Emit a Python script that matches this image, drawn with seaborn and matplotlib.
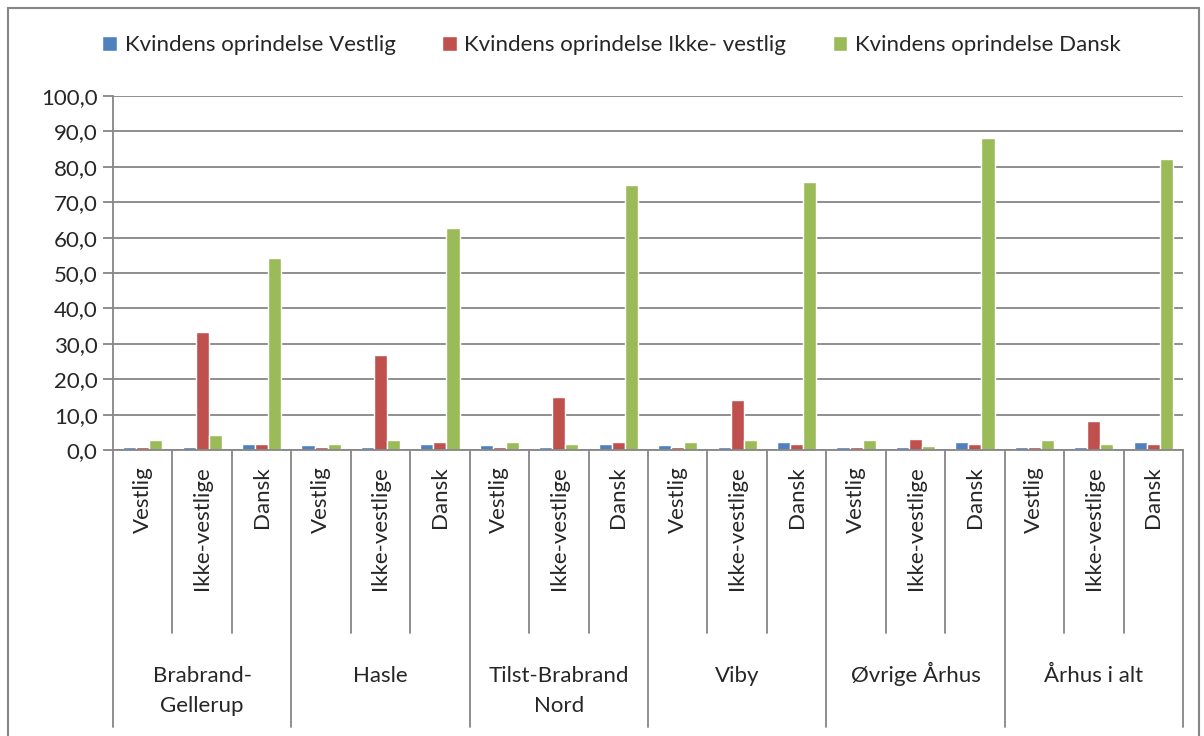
import numpy as np
import pandas as pd
import matplotlib
matplotlib.use("Agg")
import matplotlib.pyplot as plt
from matplotlib.patches import Rectangle, Patch
import seaborn as sns

# grupper og undergrupper på x-aksen
omraader = ["Brabrand-\nGellerup", "Hasle", "Tilst-Brabrand\nNord", "Viby", "Øvrige Århus", "Århus i alt"]
undergrupper = ["Vestlig", "Ikke-vestlige", "Dansk"]
serier = ["Kvindens oprindelse Vestlig", "Kvindens oprindelse Ikke- vestlig", "Kvindens oprindelse Dansk"]
farver = ["#4F81BD", "#C0504D", "#9BBB59"]

# pct. pr. (område, undergruppe), i rækkefølge som på aksen
vestlig = [0.8, 0.8, 1.7, 1.3, 0.8, 1.7, 1.3, 0.8, 1.7, 1.3, 0.8, 2.2, 0.8, 0.8, 2.2, 0.8, 0.8, 2.2]
ikke_vestlig = [0.8, 33.2, 1.7, 0.8, 26.7, 2.2, 0.8, 14.9, 2.2, 0.8, 14.1, 1.7, 0.8, 3.2, 1.7, 0.8, 8.2, 1.7]
dansk = [2.7, 4.2, 54.2, 1.7, 2.7, 62.6, 2.2, 1.7, 74.8, 2.2, 2.7, 75.8, 2.7, 1.2, 88.0, 2.7, 1.7, 82.2]

noegler = [f"{o}|{u}" for o in omraader for u in undergrupper]
rows = []
for serie, vals in zip(serier, [vestlig, ikke_vestlig, dansk]):
    for k, v in zip(noegler, vals):
        rows.append({"kat": k, "serie": serie, "pct": v})
df = pd.DataFrame(rows)

sns.set_style("white")
plt.rcParams["font.family"] = ["Lato", "DejaVu Sans"]
FS = 16
GRAY = "#868686"

W, H = 1204, 736
fig = plt.figure(figsize=(W / 100, H / 100), dpi=100)
ax = fig.add_axes([113 / W, 1 - 450 / H, (1183 - 113) / W, (450 - 96) / H])

sns.barplot(data=df, x="kat", y="pct", hue="serie", order=noegler, hue_order=serier,
            palette=farver, width=0.66, saturation=1, legend=False, ax=ax)

ax.set_xlim(-0.5, len(noegler) - 0.5)
ax.set_ylim(0, 100)
ax.set_yticks(np.arange(0, 101, 10))
ax.set_yticklabels([f"{t:.1f}".replace(".", ",") for t in np.arange(0, 101, 10)], fontsize=FS)
ax.set_xticks([])
ax.set_xlabel("")
ax.set_ylabel("")
ax.yaxis.grid(True, color=GRAY, lw=1.3)
ax.set_axisbelow(True)
for s in ["top", "right"]:
    ax.spines[s].set_visible(False)
for s in ["left", "bottom"]:
    ax.spines[s].set_color(GRAY)
    ax.spines[s].set_linewidth(1.3)
ax.tick_params(axis="y", direction="out", length=7, width=1.3, color=GRAY, left=True, pad=4)

tr = ax.get_xaxis_transform()
ph = 450 - 96
y_sub = -(466 - 450) / ph
y_inner = -(633 - 450) / ph
y_group = -(727 - 450) / ph

for i, k in enumerate(noegler):
    ax.text(i, y_sub, k.split("|")[1], rotation=90, ha="center", va="top",
            fontsize=FS, transform=tr)
for g, o in enumerate(omraader):
    for j, linje in enumerate(o.split("\n")):
        ax.text(3 * g + 1, -(682 + 30 * j - 450) / ph, linje, ha="center", va="baseline",
                fontsize=FS, transform=tr)
    for b in (3 * g + 0.5, 3 * g + 1.5):
        ax.plot([b, b], [0, y_inner], color=GRAY, lw=1.3, transform=tr, clip_on=False)
for g in range(len(omraader) + 1):
    b = 3 * g - 0.5
    ax.plot([b, b], [0, y_group], color=GRAY, lw=1.3, transform=tr, clip_on=False)

handles = [Patch(facecolor=c) for c in farver]
fig.legend(handles, serier, loc="center", bbox_to_anchor=(0.508, 1 - 45 / H), ncol=3,
           frameon=False, fontsize=FS, handlelength=0.65, handleheight=0.65,
           handletextpad=0.35, columnspacing=2.1)

fig.add_artist(Rectangle((8 / W, -0.01), (1199 - 8) / W, 1.01 - 8 / H, transform=fig.transFigure,
                         fill=False, edgecolor=GRAY, lw=1.5))

fig.savefig("out.png", dpi=100)
